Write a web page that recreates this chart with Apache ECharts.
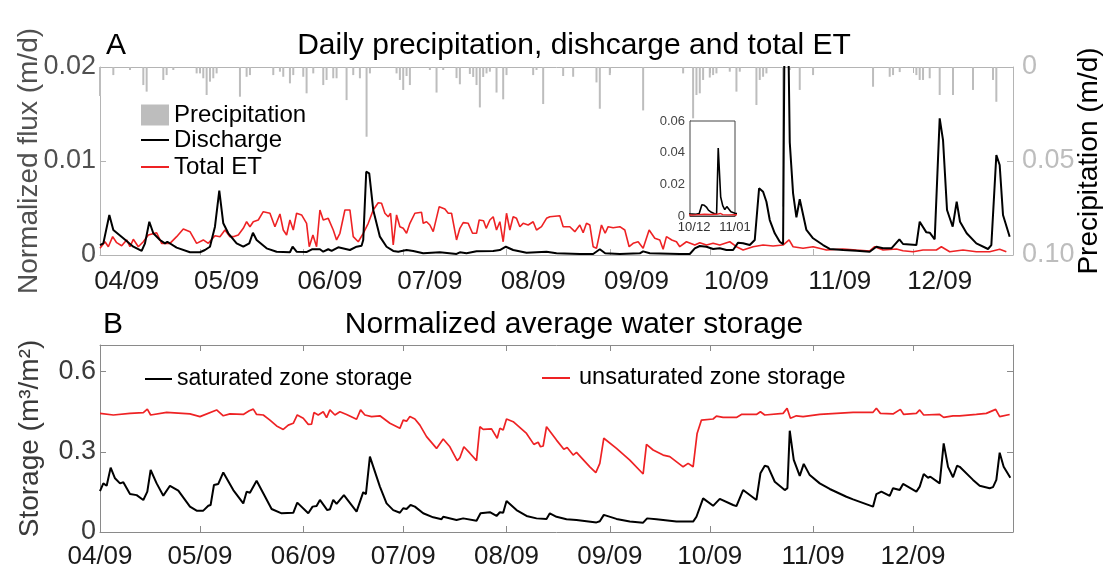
<!DOCTYPE html>
<html>
<head>
<meta charset="utf-8">
<script src="https://cdn.jsdelivr.net/npm/echarts@6/dist/echarts.min.js"></script>
<style>
html,body{margin:0;padding:0;background:#fff;}
#chart{width:1103px;height:571px;}
</style>
</head>
<body>
<div id="chart"></div>
<script>
// ---------- DATA (x = days since 1 April) ----------
const monthStartDays = [0, 30, 61, 91, 122, 153, 183, 214, 244];
const monthLabels = ['04/09', '05/09', '06/09', '07/09', '08/09', '09/09', '10/09', '11/09', '12/09'];
const insetTickDays = [194, 214];
const insetTickLabels = ['10/12', '11/01'];

const precipitation = [[0,0.0154],[4,0.0043],[9,0.0016],[13,0.0096],[14,0.0131],[19,0.0069],[20,0.0043],[22,0.0016],[29,0.0034],[30,0.0034],[31,0.006],[32,0.0149],[33,0.0078],[34,0.006],[35,0.0034],[42,0.0158],[44,0.0052],[45,0.0043],[52,0.0043],[54,0.0025],[55,0.0052],[57,0.0087],[58,0.0043],[61,0.0052],[62,0.014],[64,0.0034],[67,0.0096],[68,0.0069],[70,0.006],[71,0.006],[74,0.0176],[76,0.0043],[78,0.006],[80,0.0371],[81,0.0034],[89,0.0034],[90,0.0069],[91,0.0122],[92,0.0048],[93,0.0096],[99,0.0016],[101,0.0136],[103,0.0016],[107,0.0059],[108,0.0092],[111,0.0037],[112,0.0053],[113,0.0096],[114,0.0215],[115,0.0053],[116,0.0034],[117,0.0025],[119,0.0136],[121,0.0172],[122,0.0043],[130,0.0043],[131,0.0016],[133,0.0197],[139,0.0048],[142,0.0052],[149,0.0082],[150,0.0222],[153,0.0043],[163,0.0231],[175,0.0034],[178,0.0273],[179,0.0149],[180,0.014],[181,0.0069],[183,0.0056],[184,0.0043],[185,0.0034],[189,0.0025],[191,0.0131],[192,0.0025],[197,0.0202],[198,0.0069],[199,0.0052],[200,0.0034],[205,0.0743],[207,0.0016],[210,0.0122],[214,0.0043],[232,0.0105],[237,0.0052],[238,0.0043],[240,0.0027],[245,0.0043],[246,0.0069],[247,0.0069],[249,0.006],[252,0.0149],[256,0.0149],[262,0.0122],[268,0.0069],[269,0.0185]];

const discharge = [[0,0.00106],[1.0,0.00124],[2.8,0.00426],[4.0,0.00266],[5.0,0.00237],[7.0,0.00178],[10.0,0.00088],[12.5,0.00043],[13.5,0.00124],[14.8,0.00354],[16.0,0.00231],[18.0,0.0016],[19.5,0.00124],[20.2,0.00141],[23.0,0.00078],[27.0,0.00029],[30.0,0.00029],[31.5,0.00053],[33.0,0.00088],[34.5,0.00301],[35.8,0.00684],[37.0,0.00337],[38.5,0.00231],[41.0,0.00124],[43.0,0.00088],[44.8,0.00124],[45.9,0.00237],[47.0,0.0016],[50.0,0.00071],[53.0,0.00035],[57.0,0.00029],[57.8,0.00088],[59.0,0.00035],[62.1,0.00032],[63.6,0.00061],[66.0,0.00061],[67.0,0.00035],[68.5,0.00061],[69.5,0.00043],[71.5,0.00082],[75.0,0.00053],[77.0,0.00088],[78.5,0.00099],[79.0,0.0016],[79.9,0.00886],[80.8,0.00869],[82.0,0.00479],[84.0,0.00195],[86.0,0.00088],[88.0,0.00043],[89.5,0.00035],[92.0,0.00053],[94.0,0.00043],[97.0,0.00018],[102.0,0.00029],[107.0,0.00011],[108.0,0.00029],[110.0,0.00018],[113.0,0.00039],[118.0,0.00043],[120.0,0.00053],[121.8,0.00088],[124.0,0.00053],[128.0,0.00024],[134.0,0.00035],[137.0,0.00018],[144.0,0.00011],[148.0,0.00011],[150.0,0.00061],[151.6,0.00018],[156.0,0.00011],[162.0,0.00018],[163.0,0.00039],[165.0,0.00018],[174.0,0.00011],[177.0,0.00011],[178.5,0.00071],[180.0,0.00096],[182.0,0.00088],[184.0,0.00064],[186.0,0.00071],[188.0,0.00053],[190.0,0.00053],[191.5,0.00131],[193.0,0.00124],[195.0,0.00106],[196.5,0.0016],[197.8,0.0071],[199.0,0.00673],[200.0,0.00567],[201.0,0.00372],[202.5,0.00231],[204.0,0.00141],[205.0,0.00114],[205.8,0.043],[207.0,0.012],[208.0,0.00656],[209.0,0.00401],[210.0,0.00593],[212.0,0.00266],[214.0,0.00178],[217.0,0.00106],[219.0,0.00064],[223.0,0.00053],[227.0,0.00046],[231.0,0.00035],[233.0,0.00088],[235.0,0.00071],[237.5,0.00071],[239.9,0.00167],[241.0,0.00117],[245.0,0.00106],[246.0,0.00354],[248.0,0.00241],[249.0,0.00237],[250.5,0.00167],[251.0,0.0016],[252.0,0.01454],[253.0,0.01223],[254.2,0.00479],[255.9,0.00301],[257.1,0.00567],[258.1,0.00354],[260.1,0.00231],[263.0,0.00124],[266.5,0.00064],[267.5,0.00106],[269.0,0.01064],[270.0,0.00957],[271.0,0.00426],[273.0,0.00195]];

const totalET = [[0,0.00071],[1.5,0.00141],[2.5,0.00088],[3.8,0.00195],[5.0,0.00131],[6.5,0.00099],[8.0,0.0016],[9.0,0.00088],[10.0,0.00167],[11.5,0.00088],[13.0,0.00141],[14.5,0.00213],[17.0,0.00237],[18.5,0.00124],[21.0,0.00124],[23.0,0.00195],[25.0,0.00277],[27.0,0.00248],[29.0,0.00124],[31.0,0.0016],[32.5,0.00124],[34.5,0.00205],[36.0,0.00195],[37.5,0.00266],[39.0,0.00195],[40.0,0.00195],[41.5,0.00213],[43.0,0.00284],[44.0,0.00354],[45.0,0.00301],[46.0,0.00354],[47.5,0.00372],[49.0,0.00461],[51.0,0.00444],[52.5,0.00301],[54.0,0.00436],[55.0,0.00266],[56.0,0.00213],[57.0,0.00372],[58.0,0.00266],[59.0,0.00444],[60.5,0.00426],[62.0,0.00337],[62.8,0.00088],[63.9,0.00213],[65.0,0.00088],[66.0,0.00479],[67.0,0.00372],[68.5,0.0039],[70.0,0.00266],[71.0,0.0016],[72.0,0.00231],[73.5,0.00479],[75.0,0.00479],[76.0,0.00195],[77.5,0.00141],[79.0,0.00231],[80.5,0.00337],[82.0,0.00479],[83.5,0.00556],[84.5,0.0055],[85.5,0.00444],[86.5,0.00407],[87.2,0.00444],[88.0,0.00106],[89.0,0.00426],[90.0,0.00301],[91.0,0.00284],[92.0,0.00231],[93.0,0.00337],[94.5,0.00444],[96.5,0.00454],[97.0,0.00337],[98.0,0.00354],[99.0,0.00319],[100.0,0.00248],[101.8,0.00514],[103.5,0.00489],[104.5,0.00444],[105.5,0.00444],[107.0,0.0016],[108.0,0.00284],[109.0,0.00344],[110.5,0.00337],[111.8,0.00231],[113.0,0.00231],[113.8,0.00372],[115.1,0.00365],[115.9,0.00284],[117.0,0.00372],[118.0,0.00407],[119.0,0.00266],[120.0,0.00354],[121.0,0.00141],[122.0,0.00444],[123.0,0.00266],[124.0,0.00407],[125.0,0.0039],[126.0,0.00301],[127.0,0.00337],[128.5,0.00319],[130.0,0.00354],[131.0,0.00266],[132.5,0.00301],[134.0,0.0039],[135.0,0.00407],[138.0,0.00418],[139.0,0.00301],[141.0,0.00301],[142.5,0.00248],[144.0,0.00319],[145.0,0.00237],[146.0,0.00337],[147.0,0.00319],[148.0,0.00088],[149.0,0.00071],[150.5,0.00319],[151.6,0.00231],[152.5,0.00301],[154.0,0.0029],[156.0,0.00301],[157.5,0.00266],[158.8,0.00088],[160.0,0.00124],[161.5,0.00141],[163.0,0.00071],[164.8,0.00266],[166.5,0.00178],[168.0,0.0016],[169.0,0.00061],[170.0,0.00195],[171.6,0.0016],[173.0,0.00141],[174.0,0.00088],[176.0,0.00141],[178.5,0.00106],[180.0,0.00131],[182.0,0.00106],[184.0,0.00124],[186.0,0.00106],[189.0,0.00141],[191.0,0.00088],[193.0,0.00053],[196.0,0.00088],[199.0,0.00106],[202.0,0.00096],[205.0,0.00106],[206.8,0.0016],[208.0,0.00088],[211.0,0.00071],[214.0,0.00088],[218.0,0.00053],[223.0,0.00064],[227.0,0.00053],[231.0,0.00043],[232.5,0.00088],[235.0,0.00053],[239.0,0.00064],[241.0,0.00046],[244.0,0.00035],[247.0,0.00053],[251.0,0.00053],[252.5,0.00088],[255.0,0.00035],[259.0,0.00053],[263.0,0.00035],[267.0,0.00035],[270.0,0.00061],[272.0,0.00035]];

const unsaturatedStorage = [[0,0.444],[4.0,0.438],[9.0,0.444],[13.0,0.447],[14.2,0.46],[15.2,0.438],[20.0,0.448],[27.0,0.442],[30.0,0.432],[35.0,0.457],[37.0,0.435],[39.0,0.442],[43.0,0.44],[44.8,0.454],[46.0,0.46],[47.0,0.44],[49.0,0.438],[51.0,0.419],[53.0,0.397],[55.0,0.384],[56.5,0.4],[58.0,0.407],[59.2,0.438],[61.0,0.426],[62.5,0.403],[63.5,0.404],[64.2,0.447],[65.5,0.438],[67.0,0.45],[68.0,0.428],[69.0,0.457],[70.5,0.438],[72.0,0.45],[74.0,0.44],[77.0,0.422],[78.2,0.457],[79.5,0.438],[81.5,0.432],[84.0,0.435],[87.0,0.407],[90.0,0.388],[91.0,0.419],[92.0,0.415],[93.0,0.432],[94.5,0.423],[96.0,0.4],[98.0,0.357],[101.0,0.313],[103.0,0.348],[105.0,0.319],[107.2,0.267],[108.0,0.278],[109.2,0.319],[111.0,0.295],[113.0,0.267],[114.0,0.394],[115.0,0.384],[117.5,0.386],[119.2,0.351],[120.0,0.388],[121.0,0.382],[122.0,0.423],[124.0,0.413],[128.0,0.369],[130.2,0.328],[131.5,0.336],[132.2,0.319],[133.0,0.322],[134.0,0.394],[137.0,0.344],[139.2,0.31],[140.2,0.316],[142.0,0.288],[143.0,0.298],[147.0,0.244],[148.8,0.222],[150.0,0.257],[151.2,0.351],[155.0,0.313],[159.0,0.269],[163.0,0.217],[164.0,0.328],[166.0,0.307],[169.0,0.288],[171.0,0.282],[175.0,0.244],[176.5,0.257],[178.0,0.244],[179.2,0.369],[180.5,0.419],[184.0,0.423],[185.0,0.434],[187.0,0.429],[191.0,0.429],[192.5,0.44],[197.0,0.44],[198.2,0.45],[199.5,0.438],[205.0,0.444],[206.2,0.463],[207.2,0.426],[209.0,0.435],[211.0,0.432],[216.0,0.44],[226.0,0.448],[232.0,0.448],[233.0,0.463],[234.2,0.444],[238.0,0.442],[240.2,0.459],[241.2,0.44],[245.0,0.444],[246.0,0.457],[247.2,0.438],[252.0,0.44],[253.2,0.429],[256.0,0.435],[258.0,0.435],[263.0,0.44],[266.0,0.444],[268.8,0.459],[270.0,0.432],[273.0,0.44]];

const saturatedStorage = [[0,0.153],[1.0,0.182],[2.0,0.173],[3.2,0.241],[4.5,0.201],[6.0,0.182],[7.0,0.186],[9.0,0.142],[11.0,0.138],[13.0,0.12],[14.2,0.151],[15.2,0.232],[17.0,0.182],[19.0,0.136],[21.0,0.173],[23.5,0.155],[27.0,0.095],[29.0,0.08],[31.0,0.08],[32.5,0.098],[33.2,0.101],[34.2,0.176],[35.5,0.18],[37.0,0.223],[40.0,0.157],[43.0,0.107],[44.0,0.151],[45.0,0.147],[47.0,0.192],[49.0,0.145],[51.5,0.086],[54.5,0.07],[58.0,0.072],[59.2,0.11],[62.5,0.07],[63.8,0.095],[65.0,0.097],[66.0,0.12],[68.2,0.082],[69.0,0.085],[70.0,0.12],[71.0,0.105],[73.2,0.138],[77.0,0.076],[79.0,0.149],[79.8,0.142],[81.0,0.282],[84.0,0.17],[86.0,0.107],[88.0,0.082],[90.0,0.072],[91.0,0.089],[92.0,0.086],[93.2,0.101],[94.5,0.095],[97.0,0.07],[100.0,0.055],[102.5,0.048],[103.0,0.057],[107.0,0.045],[109.0,0.051],[113.0,0.042],[114.2,0.07],[117.0,0.074],[119.0,0.06],[120.0,0.074],[121.0,0.072],[122.0,0.116],[125.0,0.082],[128.0,0.06],[131.0,0.051],[134.0,0.049],[135.0,0.07],[137.0,0.057],[140.0,0.048],[143.0,0.045],[149.0,0.036],[150.0,0.04],[151.2,0.064],[155.0,0.049],[159.0,0.039],[163.0,0.035],[164.2,0.051],[167.0,0.048],[173.0,0.039],[178.0,0.039],[179.0,0.057],[181.0,0.126],[184.0,0.098],[186.0,0.124],[190.0,0.101],[191.0,0.097],[193.0,0.157],[197.0,0.12],[198.2,0.22],[199.5,0.248],[200.5,0.244],[202.5,0.188],[205.5,0.157],[206.3,0.164],[207.0,0.379],[208.2,0.27],[210.0,0.21],[211.2,0.255],[213.0,0.213],[216.0,0.182],[219.0,0.161],[224.0,0.132],[226.0,0.122],[232.0,0.095],[233.0,0.142],[234.5,0.151],[237.0,0.135],[238.0,0.164],[240.0,0.157],[241.0,0.18],[245.0,0.151],[246.0,0.17],[247.2,0.217],[248.5,0.203],[249.2,0.207],[252.0,0.182],[253.2,0.332],[254.5,0.244],[256.0,0.205],[257.2,0.248],[258.0,0.244],[262.0,0.195],[264.0,0.173],[267.0,0.164],[268.0,0.168],[269.0,0.195],[270.0,0.297],[271.2,0.244],[273.2,0.203]];

// ---------- CHART ----------
const FONT = '"Liberation Sans", Arial, Helvetica, sans-serif';
const TOPLINE = '#b4b4b4';
const BOTLINE = '#8a8a8a';
const RED = '#ee2224';
const labelDays = monthStartDays.map(d => d + 8);
function monthLabel(v, arr) { const i = arr.indexOf(v); return i >= 0 ? monthLabels[i] : ''; }

const chart = echarts.init(document.getElementById('chart'), null, {renderer: 'canvas'});
const mirrorX = (grid, color) => ({
  type: 'value', gridIndex: grid, position: 'top', min: 0, max: 274,
  axisLine: {show: true, onZero: false, lineStyle: {color: color, width: 1}},
  axisTick: {show: true, inside: true, length: 6, customValues: monthStartDays, lineStyle: {color: color}},
  axisLabel: {show: false}, splitLine: {show: false}
});
const titleStyle = {fontSize: 30, fontWeight: 'normal', color: '#000', fontFamily: FONT};

chart.setOption({
  animation: false,
  textStyle: {fontFamily: FONT},
  title: [
    {text: 'A', left: 101, top: 26, textStyle: titleStyle},
    {text: 'Daily precipitation, dishcarge and total ET', left: 569, top: 26, textAlign: 'center', textStyle: titleStyle},
    {text: 'B', left: 98, top: 305, textStyle: titleStyle},
    {text: 'Normalized average water storage', left: 569, top: 305, textAlign: 'center', textStyle: titleStyle}
  ],
  legend: [
    {data: [{name: 'Precipitation', icon: 'rect'}], left: 141, top: 103, padding: 0, itemWidth: 28, itemHeight: 21, selectedMode: false,
     textStyle: {fontSize: 24, lineHeight: 21, color: '#000', fontFamily: FONT}},
    {data: [{name: 'Discharge', icon: 'rect'}, {name: 'Total ET', icon: 'rect'}], orient: 'vertical', left: 141, top: 126.5, padding: 0, itemGap: 0,
     itemWidth: 28, itemHeight: 2, selectedMode: false, textStyle: {fontSize: 24, lineHeight: 27, color: '#000', fontFamily: FONT}},
    {data: [{name: 'saturated zone storage', icon: 'rect'}], left: 145, top: 366, padding: 0, itemWidth: 27, itemHeight: 2, selectedMode: false,
     textStyle: {fontSize: 23, lineHeight: 26, color: '#000', fontFamily: FONT}},
    {data: [{name: 'unsaturated zone storage', icon: 'rect'}], left: 542, top: 365, padding: 0, itemWidth: 28, itemHeight: 2, selectedMode: false,
     textStyle: {fontSize: 23.5, lineHeight: 26, color: '#000', fontFamily: FONT, padding: [0, 0, 0, 4]}}
  ],
  grid: [
    {left: 100, top: 67, width: 913, height: 188, containLabel: false, outerBoundsMode: 'none'},
    {left: 100, top: 345, width: 913, height: 187, containLabel: false, outerBoundsMode: 'none'},
    {left: 690, top: 121, width: 45, height: 95, containLabel: false, outerBoundsMode: 'none', show: true, backgroundColor: '#fff', borderColor: '#444', borderWidth: 1, z: 5}
  ],
  xAxis: [
    {type: 'value', gridIndex: 0, position: 'bottom', min: 0, max: 274,
     axisLine: {show: true, onZero: false, lineStyle: {color: TOPLINE}},
     axisTick: {show: true, inside: true, length: 6, customValues: monthStartDays, lineStyle: {color: TOPLINE}},
     axisLabel: {show: true, customValues: labelDays, formatter: v => monthLabel(v, labelDays), fontSize: 26, color: '#1a1a1a', margin: 14, fontFamily: FONT},
     splitLine: {show: false}},
    mirrorX(0, TOPLINE),
    {type: 'value', gridIndex: 1, position: 'bottom', min: 0, max: 274,
     axisLine: {show: true, onZero: false, lineStyle: {color: BOTLINE}},
     axisTick: {show: true, inside: true, length: 6, customValues: monthStartDays, lineStyle: {color: BOTLINE}},
     axisLabel: {show: true, customValues: monthStartDays, formatter: v => monthLabel(v, monthStartDays), fontSize: 26, color: '#1a1a1a', margin: 12, fontFamily: FONT},
     splitLine: {show: false}},
    mirrorX(1, BOTLINE),
    {type: 'value', gridIndex: 2, position: 'bottom', min: 192, max: 214,
     axisLine: {show: true, onZero: false, lineStyle: {color: '#444'}},
     axisTick: {show: true, inside: true, length: 3, customValues: insetTickDays, lineStyle: {color: '#444'}},
     axisLabel: {show: true, customValues: insetTickDays, formatter: v => insetTickLabels[insetTickDays.indexOf(v)] || '', fontSize: 13, color: '#333', margin: 5, fontFamily: FONT},
     splitLine: {show: false}}
  ],
  yAxis: [
    {type: 'value', gridIndex: 0, position: 'left', min: 0, max: 0.02, interval: 0.01,
     axisLine: {show: true, onZero: false, lineStyle: {color: TOPLINE}},
     axisTick: {show: true, inside: true, length: 6, lineStyle: {color: TOPLINE}},
     axisLabel: {fontSize: 27, color: '#505050', margin: 4, fontFamily: FONT},
     splitLine: {show: false},
     name: 'Normalized flux (m/d)', nameLocation: 'middle', nameRotate: 90, nameGap: 57, nameMoveOverlap: false,
     nameTextStyle: {fontSize: 28, color: '#505050', fontFamily: FONT}},
    {type: 'value', gridIndex: 0, position: 'right', inverse: true, min: 0, max: 0.1, interval: 0.05,
     axisLine: {show: true, onZero: false, lineStyle: {color: TOPLINE}},
     axisTick: {show: true, inside: true, length: 6, lineStyle: {color: TOPLINE}},
     axisLabel: {fontSize: 27, color: '#bdbdbd', margin: 9, fontFamily: FONT, formatter: v => v === 0 ? '0' : v.toFixed(2)},
     splitLine: {show: false},
     name: 'Precipitation (m/d)', nameLocation: 'middle', nameRotate: 90, nameGap: 62, nameMoveOverlap: false,
     nameTextStyle: {fontSize: 28, color: '#000', fontFamily: FONT}},
    {type: 'value', gridIndex: 1, position: 'left', min: 0, max: 0.7, interval: 0.3,
     axisLine: {show: true, onZero: false, lineStyle: {color: BOTLINE}},
     axisTick: {show: true, inside: true, length: 6, customValues: [0, 0.3, 0.6], lineStyle: {color: BOTLINE}},
     axisLabel: {fontSize: 27, color: '#3a3a3a', margin: 4, fontFamily: FONT, customValues: [0, 0.3, 0.6], formatter: v => (v > 0.65 ? '' : String(v))},
     splitLine: {show: false},
     name: 'Storage (m³/m²)', nameLocation: 'middle', nameRotate: 90, nameGap: 56, nameMoveOverlap: false,
     nameTextStyle: {fontSize: 28, color: '#3a3a3a', fontFamily: FONT}},
    {type: 'value', gridIndex: 1, position: 'right', min: 0, max: 0.7, interval: 0.3,
     axisLine: {show: true, onZero: false, lineStyle: {color: BOTLINE}},
     axisTick: {show: true, inside: true, length: 6, customValues: [0, 0.3, 0.6], lineStyle: {color: BOTLINE}},
     axisLabel: {show: false}, splitLine: {show: false}},
    {type: 'value', gridIndex: 2, position: 'left', min: 0, max: 0.06, interval: 0.02,
     axisLine: {show: true, onZero: false, lineStyle: {color: '#444'}},
     axisTick: {show: true, inside: true, length: 3, lineStyle: {color: '#444'}},
     axisLabel: {fontSize: 13, color: '#444', margin: 5, fontFamily: FONT},
     splitLine: {show: false}}
  ],
  series: [
    {name: 'Precipitation', type: 'bar', xAxisIndex: 0, yAxisIndex: 1, data: precipitation, barWidth: 2,
     itemStyle: {color: '#bdbdbd'}, z: 1},
    {name: 'Total ET', type: 'line', xAxisIndex: 0, yAxisIndex: 0, data: totalET, symbol: 'none', showSymbol: false,
     lineStyle: {color: RED, width: 1.6}, itemStyle: {color: RED}, clip: true, z: 2},
    {name: 'Discharge', type: 'line', xAxisIndex: 0, yAxisIndex: 0, data: discharge, symbol: 'none', showSymbol: false,
     lineStyle: {color: '#000', width: 2}, itemStyle: {color: '#000'}, clip: true, z: 3},
    {name: 'Discharge (inset)', type: 'line', xAxisIndex: 4, yAxisIndex: 4, data: discharge, symbol: 'none', showSymbol: false,
     lineStyle: {color: '#000', width: 1.6}, itemStyle: {color: '#000'}, clip: true, z: 6},
    {name: 'Total ET (inset)', type: 'line', xAxisIndex: 4, yAxisIndex: 4, data: totalET, symbol: 'none', showSymbol: false,
     lineStyle: {color: RED, width: 1.4}, itemStyle: {color: RED}, clip: true, z: 6},
    {name: 'unsaturated zone storage', type: 'line', xAxisIndex: 2, yAxisIndex: 2, data: unsaturatedStorage, symbol: 'none', showSymbol: false,
     lineStyle: {color: RED, width: 1.7}, itemStyle: {color: RED}},
    {name: 'saturated zone storage', type: 'line', xAxisIndex: 2, yAxisIndex: 2, data: saturatedStorage, symbol: 'none', showSymbol: false,
     lineStyle: {color: '#000', width: 2}, itemStyle: {color: '#000'}}
  ]
});
</script>
</body>
</html>
